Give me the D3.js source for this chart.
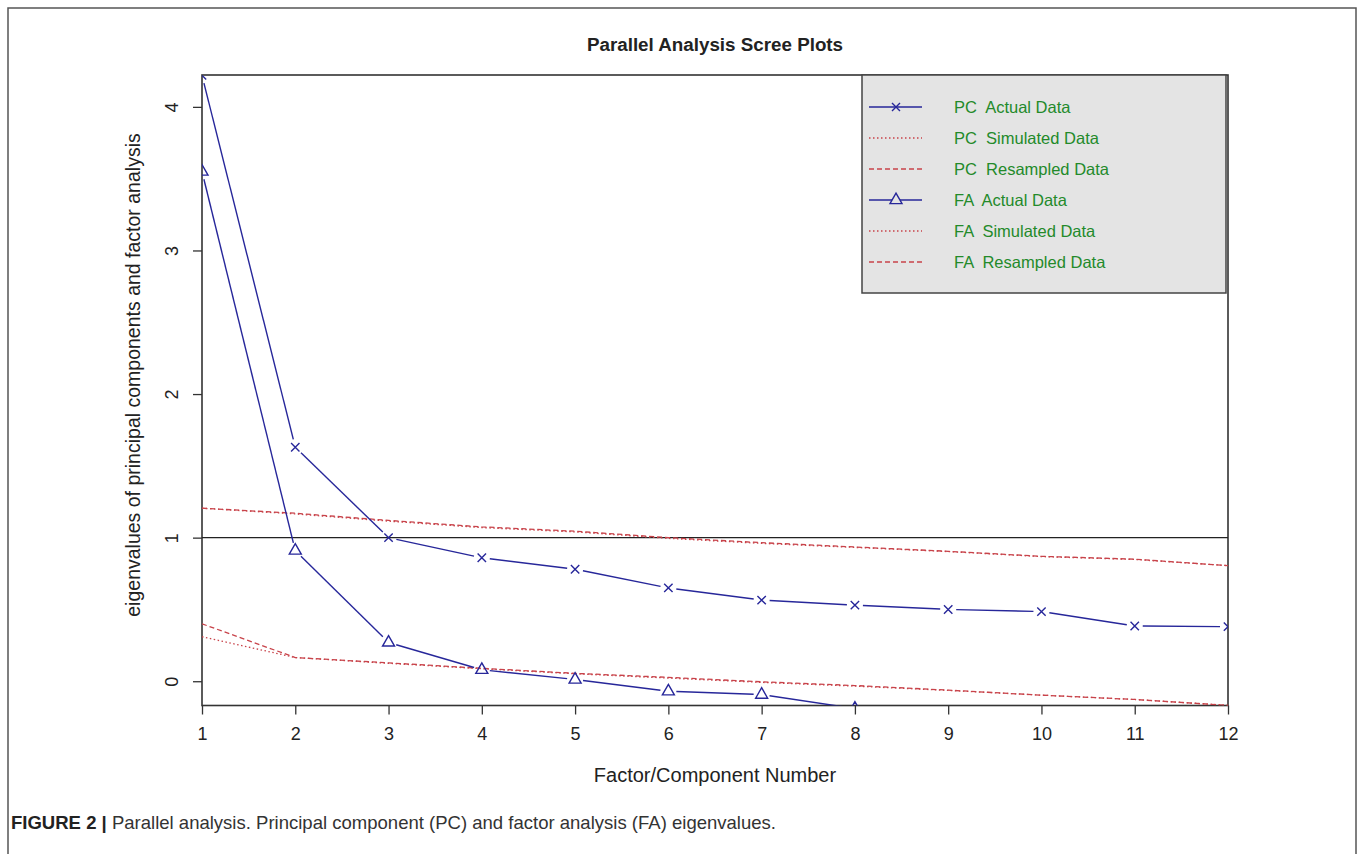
<!DOCTYPE html>
<html>
<head>
<meta charset="utf-8">
<script src="https://cdn.jsdelivr.net/npm/d3@7"></script>
<style>
  body { margin: 0; background: #fff; }
  svg { display: block; font-family: "Liberation Sans", Arial, sans-serif; }
</style>
</head>
<body>
<svg id="chart" width="1358" height="854"></svg>
<script>
// values
const factors = [1, 2, 3, 4, 5, 6, 7, 8, 9, 10, 11, 12];
const pcActual = [4.22, 1.63, 1.00, 0.86, 0.78, 0.65, 0.565, 0.53, 0.50, 0.485, 0.385, 0.38];
const pcSimulated = [1.205, 1.165, 1.115, 1.07, 1.04, 0.995, 0.96, 0.932, 0.903, 0.868, 0.848, 0.805];
const pcResampled = [1.205, 1.17, 1.12, 1.075, 1.045, 1.0, 0.965, 0.935, 0.905, 0.87, 0.85, 0.805];
const faActual = [3.55, 0.91, 0.27, 0.08, 0.012, -0.07, -0.093, -0.19];
const faSimulated = [0.31, 0.165, 0.125, 0.087, 0.052, 0.022, -0.008, -0.034, -0.064, -0.097, -0.127, -0.168];
const faResampled = [0.40, 0.165, 0.128, 0.09, 0.055, 0.027, -0.004, -0.03, -0.062, -0.097, -0.127, -0.168];
const yTicks = [0, 1, 2, 3, 4];
const legendLabels = ['PC  Actual Data', 'PC  Simulated Data', 'PC  Resampled Data',
                      'FA  Actual Data', 'FA  Simulated Data', 'FA  Resampled Data'];

(function () {
    'use strict';
    const blue = '#27279a', red = '#c8434a', green = '#238a2a', ax_co = '#333';

    const sv = d3.select('#chart');
    const ma = { top: 75, left: 202 };
    const wi = 1228 - ma.left, he = 705.5 - ma.top;

    // outer frame of the figure
    sv.append('rect').attr('x', 8).attr('y', 8).attr('width', 1348).attr('height', 900)
        .attr('fill', 'none').attr('stroke', '#555').attr('stroke-width', 1.5);

    const x_sc = d3.scaleLinear().domain([1, 12]).range([0, wi]);
    const y_sc = d3.scaleLinear().domain([-0.169, 4.222]).range([he, 0]);

    const gr = sv.append('g').attr('transform', `translate(${ma.left},${ma.top})`);

    sv.append('defs').append('clipPath').attr('id', 'clip')
        .append('rect').attr('width', wi).attr('height', he);

    // axes
    const x_ax = gr.append('g').attr('transform', `translate(0,${he})`)
        .call(d3.axisBottom(x_sc).tickValues(factors).tickFormat(d3.format('d')).tickSize(9).tickPadding(13));
    const y_ax = gr.append('g')
        .call(d3.axisLeft(y_sc).tickValues(yTicks).tickFormat(d3.format('d')).tickSize(9).tickPadding(0));
    [x_ax, y_ax].forEach(a => {
        a.select('.domain').remove();
        a.selectAll('line').attr('stroke', ax_co).attr('stroke-width', 1.3);
        a.selectAll('text').attr('fill', '#222').style('font-size', '18px')
            .style('font-family', '"Liberation Sans", Arial, sans-serif');
    });
    y_ax.selectAll('text').attr('x', null).attr('dy', null)
        .attr('text-anchor', 'middle')
        .attr('transform', 'translate(-30,0) rotate(-90)')
        .attr('dy', '0.35em');

    // plot box
    gr.append('rect').attr('width', wi).attr('height', he)
        .attr('fill', 'none').attr('stroke', ax_co).attr('stroke-width', 1.6);

    // reference line at eigenvalue 1
    gr.append('line').attr('x1', 0).attr('x2', wi)
        .attr('y1', y_sc(1)).attr('y2', y_sc(1))
        .attr('stroke', '#222').attr('stroke-width', 1.4);

    const pl = gr.append('g').attr('clip-path', 'url(#clip)');
    const ln = d3.line().x((d, i) => x_sc(factors[i])).y(d => y_sc(d));

    // simulated (dotted) and resampled (dashed)
    [[pcSimulated, '1.5,2.5'], [faSimulated, '1.5,2.5'],
     [pcResampled, '5,3'], [faResampled, '5,3']].forEach(([da, dash]) => {
        pl.append('path').datum(da).attr('d', ln)
            .attr('fill', 'none').attr('stroke', red).attr('stroke-width', 1.3)
            .attr('stroke-dasharray', dash);
    });

    // actual data: type="b" style lines with gaps round the points
    function gapLine(da, gap) {
        const pts = da.map((d, i) => [x_sc(factors[i]), y_sc(d)]);
        const segs = [];
        for (let i = 0; i < pts.length - 1; i++) {
            const [x0, y0] = pts[i], [x1, y1] = pts[i + 1];
            const L = Math.hypot(x1 - x0, y1 - y0);
            if (L <= 2 * gap) continue;
            const ux = (x1 - x0) / L, uy = (y1 - y0) / L;
            segs.push([x0 + ux * gap, y0 + uy * gap, x1 - ux * gap, y1 - uy * gap]);
        }
        pl.selectAll(null).data(segs).enter().append('line')
            .attr('x1', d => d[0]).attr('y1', d => d[1])
            .attr('x2', d => d[2]).attr('y2', d => d[3])
            .attr('stroke', blue).attr('stroke-width', 1.4);
        return pts;
    }

    const crossPath = s => `M${-s},${-s}L${s},${s}M${-s},${s}L${s},${-s}`;
    const triPath = s => `M0,${-s * 1.15}L${s},${s * 0.6}L${-s},${s * 0.6}Z`;

    const pcPts = gapLine(pcActual, 8);
    pl.selectAll(null).data(pcPts).enter().append('path')
        .attr('transform', d => `translate(${d[0]},${d[1]})`)
        .attr('d', crossPath(4.2)).attr('fill', 'none')
        .attr('stroke', blue).attr('stroke-width', 1.4);

    const faPts = gapLine(faActual, 8);
    pl.selectAll(null).data(faPts).enter().append('path')
        .attr('transform', d => `translate(${d[0]},${d[1]})`)
        .attr('d', triPath(6)).attr('fill', 'none')
        .attr('stroke', blue).attr('stroke-width', 1.4);

    // legend
    const le = sv.append('g').attr('transform', 'translate(862,75)');
    le.append('rect').attr('width', 364).attr('height', 218)
        .attr('fill', '#e4e4e4').attr('stroke', '#444').attr('stroke-width', 1.5);
    const le_st = [
        { co: blue, dash: null, mk: 'x' }, { co: red, dash: '1.5,2.5' }, { co: red, dash: '5,3' },
        { co: blue, dash: null, mk: 't' }, { co: red, dash: '1.5,2.5' }, { co: red, dash: '5,3' }
    ];
    const le_it = le.selectAll('.legend-item').data(legendLabels).enter().append('g')
        .attr('class', 'legend-item')
        .attr('transform', (d, i) => `translate(0,${32 + i * 31})`);
    le_it.append('line').attr('x1', 7).attr('x2', 60)
        .attr('stroke', (d, i) => le_st[i].co).attr('stroke-width', 1.3)
        .attr('stroke-dasharray', (d, i) => le_st[i].dash);
    le_it.filter((d, i) => le_st[i].mk === 'x').append('path')
        .attr('transform', 'translate(34,0)').attr('d', crossPath(4))
        .attr('fill', 'none').attr('stroke', blue).attr('stroke-width', 1.4);
    le_it.filter((d, i) => le_st[i].mk === 't').append('path')
        .attr('transform', 'translate(34,0)').attr('d', triPath(6))
        .attr('fill', '#e4e4e4').attr('stroke', blue).attr('stroke-width', 1.4);
    le_it.append('text').attr('x', 92).attr('dy', '0.35em')
        .attr('fill', green).style('font-size', '16.5px')
        .style('white-space', 'pre').attr('xml:space', 'preserve')
        .text(d => d);

    // titles
    sv.append('text').attr('x', ma.left + wi / 2).attr('y', 51)
        .attr('text-anchor', 'middle').style('font-size', '18.8px').style('font-weight', 'bold')
        .attr('fill', '#222').text('Parallel Analysis Scree Plots');
    sv.append('text').attr('x', ma.left + wi / 2).attr('y', 782)
        .attr('text-anchor', 'middle').style('font-size', '20px')
        .attr('fill', '#222').text('Factor/Component Number');
    sv.append('text')
        .attr('transform', 'translate(140,375) rotate(-90)')
        .attr('text-anchor', 'middle').style('font-size', '19.5px')
        .attr('fill', '#222').text('eigenvalues of principal components and factor analysis');

    // figure caption
    const cap = sv.append('text').attr('x', 11).attr('y', 829)
        .style('font-size', '18.5px').attr('fill', '#333')
        .attr('textLength', 765).attr('lengthAdjust', 'spacingAndGlyphs');
    cap.append('tspan').style('font-weight', 'bold').attr('fill', '#222').text('FIGURE 2 | ');
    cap.append('tspan').text('Parallel analysis. Principal component (PC) and factor analysis (FA) eigenvalues.');
})();
</script>
</body>
</html>
